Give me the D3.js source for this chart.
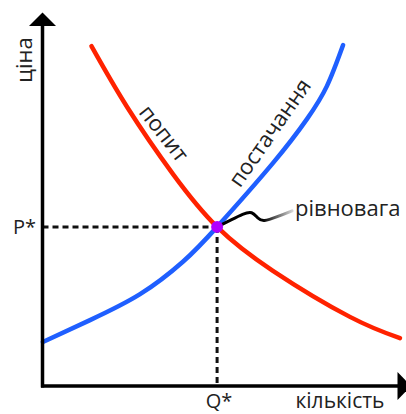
<!DOCTYPE html>
<html>
<head>
<meta charset="utf-8">
<script src="https://cdn.jsdelivr.net/npm/d3@7"></script>
<style>
  body { margin: 0; background: #fff; }
  text { font-family: "Open Sans", sans-serif; fill: #222; }
</style>
</head>
<body>
<div id="chart"></div>
<script>
// curve points, quantity (0-100) vs price (0-100)
const supplyQ = [0.1, 13.2, 27.1, 39.0, 48.5, 64.0, 73.5, 79.0, 83.5];
const supplyP = [12.2, 18.3, 25.5, 34.5, 44.2, 61.9, 74.2, 83.3, 94.7];
const demandQ = [13.6, 23.5, 36.3, 48.5, 64.0, 85.4, 99.3];
const demandP = [94.4, 77.5, 58.8, 44.2, 32.0, 19.2, 13.3];
const equilibrium = { q: 48.5, p: 44.2 };

const labels = {
  yAxis: "ціна",
  xAxis: "кількість",
  pStar: "P*",
  qStar: "Q*",
  demand: "попит",
  supply: "постачання",
  eq: "рівновага"
};

const width = 406, height = 414;
const origin = { x: 42.5, y: 386 };

const x = d3.scaleLinear().domain([0, 100]).range([origin.x, origin.x + 360]);
const y = d3.scaleLinear().domain([0, 100]).range([origin.y, origin.y - 360]);

const svg = d3.select("#chart")
  .append("svg")
    .attr("width", width)
    .attr("height", height);

const line = d3.line()
  .x(d => x(d[0]))
  .y(d => y(d[1]))
  .curve(d3.curveNatural);

const supply = supplyQ.map((q, i) => [q, supplyP[i]]);
const demand = demandQ.map((q, i) => [q, demandP[i]]);

const ex = x(equilibrium.q), ey = y(equilibrium.p);

// dashed guides to the axes
svg.append("line")
  .attr("x1", origin.x).attr("x2", ex)
  .attr("y1", ey).attr("y2", ey)
  .attr("stroke", "#111").attr("stroke-width", 3)
  .attr("stroke-dasharray", "6,4");

svg.append("line")
  .attr("x1", ex).attr("x2", ex)
  .attr("y1", ey).attr("y2", origin.y)
  .attr("stroke", "#111").attr("stroke-width", 3)
  .attr("stroke-dasharray", "6,4");

// curves
svg.append("path")
  .attr("d", line(demand))
  .attr("fill", "none")
  .attr("stroke", "#ff2200")
  .attr("stroke-width", 4.5)
  .attr("stroke-linecap", "round");

svg.append("path")
  .attr("d", line(supply))
  .attr("fill", "none")
  .attr("stroke", "#1f5fff")
  .attr("stroke-width", 4.5)
  .attr("stroke-linecap", "round");

// axes with arrow heads
svg.append("line")
  .attr("x1", origin.x).attr("x2", origin.x)
  .attr("y1", origin.y + 1.5).attr("y2", 24)
  .attr("stroke", "#000").attr("stroke-width", 3.5);
svg.append("path")
  .attr("d", `M${origin.x},12.5 L${origin.x - 13.5},26 L${origin.x + 13.5},26 Z`)
  .attr("fill", "#000");

svg.append("line")
  .attr("x1", origin.x - 1.5).attr("x2", 399)
  .attr("y1", origin.y).attr("y2", origin.y)
  .attr("stroke", "#000").attr("stroke-width", 3.5);
svg.append("path")
  .attr("d", `M411,${origin.y} L397.5,${origin.y - 14} L397.5,${origin.y + 14} Z`)
  .attr("fill", "#000");

// wavy leader to the equilibrium label, fading out like a brush stroke
const grad = svg.append("defs").append("linearGradient")
  .attr("id", "fade")
  .attr("gradientUnits", "userSpaceOnUse")
  .attr("x1", ex).attr("x2", ex + 76)
  .attr("y1", 0).attr("y2", 0);
grad.append("stop").attr("offset", "0.6").attr("stop-color", "#000").attr("stop-opacity", 1);
grad.append("stop").attr("offset", "1").attr("stop-color", "#000").attr("stop-opacity", 0.15);

const leader = [[2, -1], [14, -7], [26, -13], [35, -16], [41, -8], [46, -5], [60, -10], [75, -16]];
svg.append("path")
  .attr("d", d3.line().curve(d3.curveBasis)(leader.map(d => [ex + d[0], ey + d[1]])))
  .attr("fill", "none")
  .attr("stroke", "url(#fade)")
  .attr("stroke-width", 3)
  .attr("stroke-linecap", "round");

// equilibrium dot
svg.append("circle")
  .attr("cx", ex).attr("cy", ey)
  .attr("r", 6)
  .attr("fill", "#b000ff");

// text labels
svg.append("text")
  .attr("transform", `translate(32,60) rotate(-90)`)
  .attr("text-anchor", "middle")
  .style("font-size", "22px")
  .text(labels.yAxis);

svg.append("text")
  .attr("x", 340).attr("y", 408)
  .attr("text-anchor", "middle")
  .style("font-size", "21px")
  .text(labels.xAxis);

svg.append("text")
  .attr("x", 36).attr("y", ey + 7)
  .attr("text-anchor", "end")
  .style("font-size", "20px")
  .text(labels.pStar);

svg.append("text")
  .attr("x", ex + 2).attr("y", 408)
  .attr("text-anchor", "middle")
  .style("font-size", "20px")
  .text(labels.qStar);

svg.append("text")
  .attr("transform", `translate(158,138) rotate(52)`)
  .attr("text-anchor", "middle")
  .style("font-size", "22px")
  .text(labels.demand);

svg.append("text")
  .attr("transform", `translate(276,137) rotate(-55)`)
  .attr("text-anchor", "middle")
  .style("font-size", "22px")
  .text(labels.supply);

svg.append("text")
  .attr("x", 295).attr("y", 216)
  .style("font-size", "22px")
  .text(labels.eq);
</script>
</body>
</html>
